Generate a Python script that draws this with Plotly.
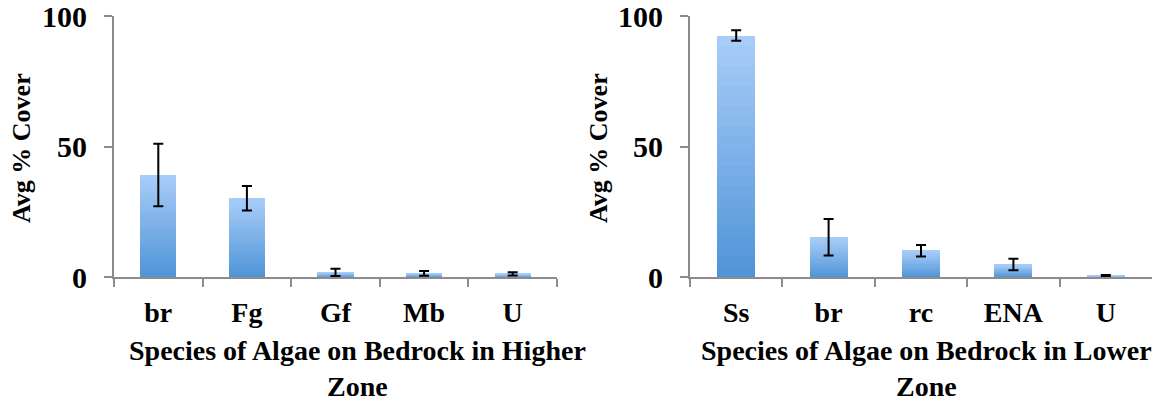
import plotly.graph_objects as go

# ---- data ----
left_categories = ["br", "Fg", "Gf", "Mb", "U"]
left_values = [39.1, 30.2, 1.8, 1.4, 1.2]
left_errors = [12.0, 4.7, 1.4, 0.9, 0.6]

right_categories = ["Ss", "br", "rc", "ENA", "U"]
right_values = [92.5, 15.2, 10.1, 4.8, 0.5]
right_errors = [2.0, 7.0, 2.2, 2.2, 0.3]

y_ticks = [0, 50, 100]
left_xtitle = "Species of Algae on Bedrock in Higher<br>Zone"
right_xtitle = "Species of Algae on Bedrock in Lower<br>Zone"
ytitle = "Avg % Cover"

# ---- style ----
FONT = "Liberation Serif"
AXIS_GREY = "#8c8c8c"
TOP_RGB = (169, 205, 248)
BOT_RGB = (79, 148, 216)
N_SLICES = 24
BAR_WIDTH = 0.41
W, H = 1160, 402

fig = go.Figure()


def add_chart(cats, vals, errs, xa, ya):
    # vertical gradient per bar built from stacked slices of the same bar
    for k in range(N_SLICES):
        t = (k + 0.5) / N_SLICES
        rgb = tuple(round(b + t * (tp - b)) for b, tp in zip(BOT_RGB, TOP_RGB))
        fig.add_trace(go.Bar(
            x=cats,
            y=[v / N_SLICES for v in vals],
            base=[v * k / N_SLICES for v in vals],
            width=BAR_WIDTH,
            marker=dict(color="rgb(%d,%d,%d)" % rgb, line=dict(width=0)),
            xaxis=xa, yaxis=ya, showlegend=False, hoverinfo="skip",
        ))
    fig.add_trace(go.Scatter(
        x=cats, y=vals, mode="markers",
        marker=dict(size=1, opacity=0),
        error_y=dict(type="data", array=errs, color="black", thickness=2, width=5),
        xaxis=xa, yaxis=ya, showlegend=False, hoverinfo="skip",
    ))


add_chart(left_categories, left_values, left_errors, "x", "y")
add_chart(right_categories, right_values, right_errors, "x2", "y2")

xaxis_common = dict(
    type="category", tickson="boundaries", ticks="outside", ticklen=8,
    tickwidth=2, tickcolor=AXIS_GREY, showline=True, linecolor=AXIS_GREY,
    linewidth=2, showgrid=False, zeroline=False, automargin=False,
    tickfont=dict(family=FONT, size=28, color="black", weight="bold"),
    ticklabelstandoff=9, ticklabeloverflow="allow", fixedrange=True,
)
yaxis_common = dict(
    range=[0, 100], tickvals=y_ticks, ticks="outside", ticklen=8,
    tickwidth=2, tickcolor=AXIS_GREY, showline=True, linecolor=AXIS_GREY,
    linewidth=2, showgrid=False, zeroline=False, automargin=False,
    tickfont=dict(family=FONT, size=30, color="black", weight="bold"),
    ticklabelstandoff=11, ticklabeloverflow="allow", fixedrange=True,
)

Y_DOMAIN = [(H - 277) / H, (H - 16) / H]

fig.update_layout(
    width=W, height=H,
    margin=dict(l=0, r=0, t=0, b=0, pad=0),
    paper_bgcolor="white", plot_bgcolor="white",
    barmode="overlay", bargap=0,
    xaxis=dict(domain=[114 / W, 557 / W], anchor="y", **xaxis_common),
    yaxis=dict(domain=Y_DOMAIN, anchor="x", **yaxis_common),
    xaxis2=dict(domain=[690 / W, 1152 / W], anchor="y2", **xaxis_common),
    yaxis2=dict(domain=Y_DOMAIN, anchor="x2", **yaxis_common),
    showlegend=False,
)

title_font = dict(family=FONT, size=28, color="black", weight="bold")
ytitle_font = dict(family=FONT, size=26, color="black", weight="bold")

fig.add_annotation(text=left_xtitle, x=357 / W, y=(H - 368) / H,
                   xref="paper", yref="paper", showarrow=False,
                   font=title_font, align="center", xanchor="center", yanchor="middle")
fig.add_annotation(text=right_xtitle, x=926 / W, y=(H - 368) / H,
                   xref="paper", yref="paper", showarrow=False,
                   font=title_font, align="center", xanchor="center", yanchor="middle")
fig.add_annotation(text=ytitle, x=21 / W, y=(H - 148) / H,
                   xref="paper", yref="paper", showarrow=False, textangle=-90,
                   font=ytitle_font, xanchor="center", yanchor="middle")
fig.add_annotation(text=ytitle, x=598 / W, y=(H - 148) / H,
                   xref="paper", yref="paper", showarrow=False, textangle=-90,
                   font=ytitle_font, xanchor="center", yanchor="middle")

fig.write_html("out.html", config={"displayModeBar": False},
               post_script="document.body.style.margin='0';")
